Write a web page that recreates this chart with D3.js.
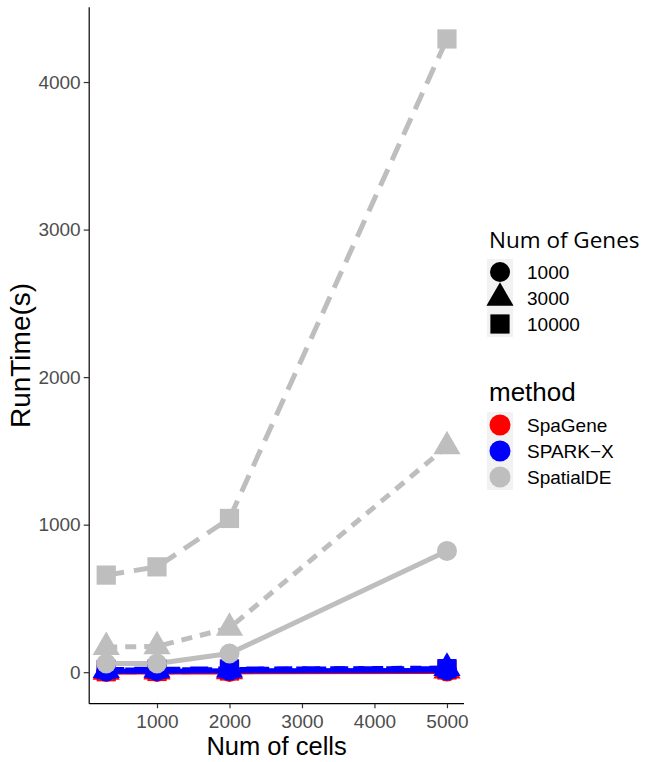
<!DOCTYPE html>
<html>
<head>
<meta charset="utf-8">
<script src="https://cdn.jsdelivr.net/npm/d3@7"></script>
<style>
  html, body { margin: 0; padding: 0; background: #ffffff; }
  svg { display: block; }
</style>
</head>
<body>
<svg id="chart" width="647" height="762"></svg>
<script>
// Run time (seconds) by number of cells, per method and number of genes
const cells = [300, 1000, 2000, 5000];
const geneSets = ["1000", "3000", "10000"];
const methods = ["SpaGene", "SPARK\u2212X", "SpatialDE"];

const spaGene1000  = [1, 1, 2, 4];
const spaGene3000  = [2, 3, 5, 10];
const spaGene10000 = [3, 5, 8, 15];

const sparkX1000  = [6, 7, 9, 12];
const sparkX3000  = [14, 15, 18, 28];
const sparkX10000 = [18, 20, 22, 24];

const spatialDE1000  = [59, 59, 127, 822];
const spatialDE3000  = [170, 175, 300, 1530];
const spatialDE10000 = [658, 714, 1042, 4292];

const xTicks = [1000, 2000, 3000, 4000, 5000];
const yTicks = [0, 1000, 2000, 3000, 4000];

const methodColors = ["#ff0000", "#0000ff", "#bebebe"];

const values = {
  "SpaGene":   [spaGene1000, spaGene3000, spaGene10000],
  "SPARK\u2212X":  [sparkX1000, sparkX3000, sparkX10000],
  "SpatialDE": [spatialDE1000, spatialDE3000, spatialDE10000]
};

// one series per method x gene set
const series = [];
methods.forEach((m, mi) => {
  geneSets.forEach((g, gi) => {
    series.push({
      method: m, genes: g, mi, gi,
      points: cells.map((c, i) => ({ cells: c, time: values[m][gi][i] }))
    });
  });
});

const svg = d3.select("#chart");
const font = "'Liberation Sans', Arial, Helvetica, sans-serif";

// panel extents with 5% padding on the data range
const allTimes = series.flatMap(s => s.points.map(p => p.time));
const tMin = d3.min(allTimes), tMax = d3.max(allTimes);
const cMin = d3.min(cells), cMax = d3.max(cells);
const padY = (tMax - tMin) * 0.05, padX = (cMax - cMin) * 0.05;

const panel = { left: 89.2, right: 464, top: 7.3, bottom: 703.7 };

const x = d3.scaleLinear().domain([cMin - padX, cMax + padX]).range([panel.left, panel.right]);
const y = d3.scaleLinear().domain([tMin - padY, tMax + padY]).range([panel.bottom, panel.top]);

const shapeOf = [d3.symbolCircle, d3.symbolTriangle, d3.symbolSquare];
const shapeSize = [314, 320, 370];
const dashOf = [null, "11,8", "18,10"];

// lines
const line = d3.line().x(d => x(d.cells)).y(d => y(d.time));
const gLines = svg.append("g");
series.forEach(s => {
  gLines.append("path")
    .datum(s.points)
    .attr("d", line)
    .attr("fill", "none")
    .attr("stroke", methodColors[s.mi])
    .attr("stroke-width", 5)
    .attr("stroke-dasharray", dashOf[s.gi])
    .attr("stroke-linejoin", "round");
});

// points
const gPts = svg.append("g");
series.forEach(s => {
  gPts.selectAll(null)
    .data(s.points)
    .join("path")
    .attr("transform", d => `translate(${x(d.cells)},${y(d.time)})`)
    .attr("d", d3.symbol().type(shapeOf[s.gi]).size(shapeSize[s.gi]))
    .attr("fill", methodColors[s.mi]);
});

// axes
const xAxis = d3.axisBottom(x).tickValues(xTicks).tickSize(4.5).tickPadding(6).tickFormat(d3.format("d"));
const yAxis = d3.axisLeft(y).tickValues(yTicks).tickSize(5.5).tickPadding(3).tickFormat(d3.format("d"));

const gx = svg.append("g").attr("transform", `translate(0,${panel.bottom})`).call(xAxis);
const gy = svg.append("g").attr("transform", `translate(${panel.left},0)`).call(yAxis);

[gx, gy].forEach(g => {
  g.select(".domain").attr("stroke", "#000").attr("stroke-width", 1.2);
  g.selectAll(".tick line").attr("stroke", "#333").attr("stroke-width", 1.2);
  g.selectAll(".tick text")
    .attr("fill", "#4d4d4d")
    .style("font-family", font)
    .style("font-size", "19px");
});
gx.select(".domain").attr("d", `M${panel.left},0H${panel.right}`);
gy.select(".domain").attr("d", `M0,${panel.top}V${panel.bottom}`);

// axis titles
svg.append("text")
  .attr("x", (panel.left + panel.right) / 2)
  .attr("y", 755)
  .attr("text-anchor", "middle")
  .style("font-family", font).style("font-size", "25.5px")
  .text("Num of cells");

svg.append("text")
  .attr("transform", `translate(30,${(panel.top + panel.bottom) / 2}) rotate(-90)`)
  .attr("text-anchor", "middle")
  .style("font-family", font).style("font-size", "28px")
  .text("RunTime(s)");

// legends
const legX = 487, keyW = 26, keyH = 26;

function legend(top, title, titleFont, titleSize, labels, drawKey) {
  const g = svg.append("g");
  g.append("text")
    .attr("x", legX + 2).attr("y", top)
    .style("font-family", titleFont).style("font-size", titleSize)
    .text(title);
  const keysTop = top + 11;
  g.append("rect")
    .attr("x", legX).attr("y", keysTop)
    .attr("width", keyW).attr("height", keyH * labels.length)
    .attr("fill", "#f2f2f2");
  labels.forEach((lab, i) => {
    const cy = keysTop + keyH * (i + 0.5);
    drawKey(g, i, legX + keyW / 2, cy);
    g.append("text")
      .attr("x", legX + 40).attr("y", cy)
      .attr("dy", "0.36em")
      .style("font-family", font).style("font-size", "19px")
      .text(lab);
  });
}

legend(248, "Num of Genes", "'Open Sans', sans-serif", "22.5px", geneSets, (g, i, cx, cy) => {
  g.append("path")
    .attr("transform", `translate(${cx},${cy})`)
    .attr("d", d3.symbol().type(shapeOf[i]).size(shapeSize[i]))
    .attr("fill", "#000");
});

legend(401, "method", font, "26px", methods, (g, i, cx, cy) => {
  g.append("circle")
    .attr("cx", cx).attr("cy", cy).attr("r", 10.5)
    .attr("fill", methodColors[i]);
});
</script>
</body>
</html>
